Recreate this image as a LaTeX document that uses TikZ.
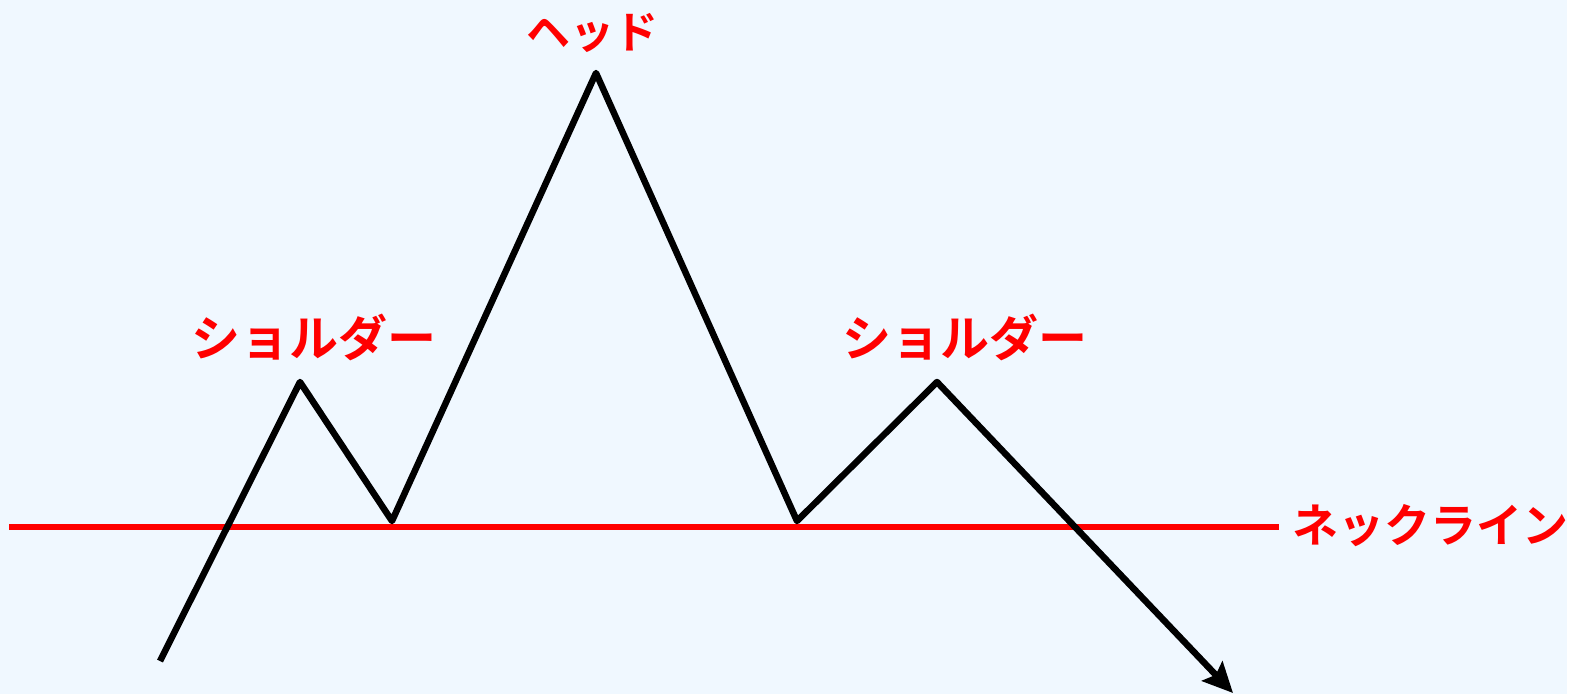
\documentclass[tikz,border=0pt]{standalone}
\usepackage{fontspec}
\newfontfamily\jp{Noto Sans CJK JP}[BoldFont={* Bold}]
\usetikzlibrary{arrows.meta}
\definecolor{bg}{RGB}{240,248,255}
\begin{document}
\begin{tikzpicture}[x=1pt,y=-1pt,
  lbl/.style={text=red,font=\jp\bfseries\fontsize{#1}{#1}\selectfont,inner sep=0pt},
  price/.style={draw=black,line width=6.5pt,line join=round},
  neck/.style={draw=red,line width=6pt}]
\useasboundingbox (0,0) rectangle (1579,694);
\fill[bg] (0,0) rectangle (1567,694);
\coordinate (s) at (160,661);
\coordinate (p1) at (300,382);
\coordinate (t1) at (392,521);
\coordinate (h) at (596,73);
\coordinate (t2) at (797,521);
\coordinate (p2) at (937,382);
\coordinate (e) at (1233,693);
\coordinate (nl) at (9,527);
\coordinate (nr) at (1279,527);
\draw[neck] (nl) -- (nr);
\draw[price,-{Stealth[length=30pt,width=28pt,inset=5pt]}] (s) -- (p1) -- (t1) -- (h) -- (t2) -- (p2) -- (e);
\node[lbl=44] (head) at (592,33) {ヘッド};
\node[lbl=49] (ls) at (314,337) {ショルダー};
\node[lbl=49] (rs) at (965,337) {ショルダー};
\node[lbl=46] (nk) at (1430,526) {ネックライン};
\end{tikzpicture}
\end{document}
